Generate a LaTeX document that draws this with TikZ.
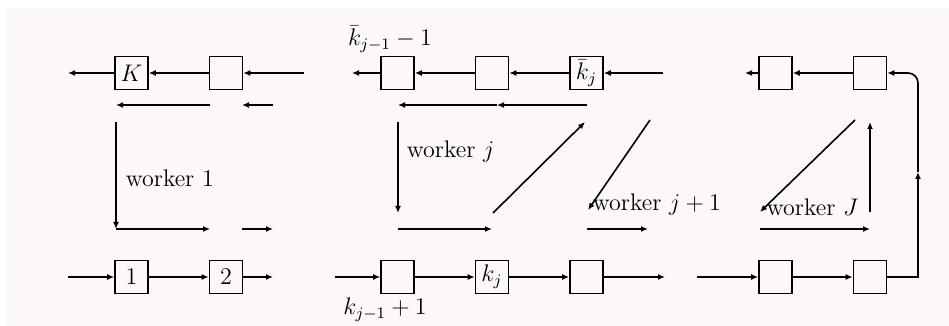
\documentclass[tikz,border=0pt]{standalone}
\usepackage{amsmath,amssymb}
\usetikzlibrary{arrows.meta}
\definecolor{paper}{RGB}{251,247,251}

\begin{document}
\begin{tikzpicture}[x=0.5pt,y=-0.5pt,line width=0.8pt,
		cell/.style={draw,line width=0.8pt,minimum width=16.5pt,minimum height=16.5pt,inner sep=0pt,font=\fontsize{12}{14}\selectfont},
		flow/.style={-{Latex[length=3.5pt,width=3pt]}},
		lbl/.style={font=\fontsize{12}{14}\selectfont,inner sep=0pt}]
					\pgfmathsetmacro{\TopY}{73}
					\pgfmathsetmacro{\BotY}{277}
					\pgfmathsetmacro{\BackY}{105}
					\pgfmathsetmacro{\FwdY}{229}
					\useasboundingbox (0,0) rectangle (949,326);
					\fill[paper] (7,8) rectangle (949,326);
					% TOP ROW
					\node[cell] (K) at (131.5,\TopY) {$K$};
					\node[cell] (t1) at (226,\TopY) {};
					\node[cell] (tL) at (397.5,\TopY) {};
					\node[cell] (tM) at (492,\TopY) {};
					\node[cell] (tkb) at (586.5,\TopY) {$\bar{k}_j$};
					\node[cell] (tR1) at (775.5,\TopY) {};
					\node[cell] (tR2) at (870,\TopY) {};
					\coordinate (tout1) at (68,\TopY);
					\coordinate (tin1) at (304,\TopY);
					\coordinate (tout2) at (352,\TopY);
					\coordinate (tin2) at (663,\TopY);
					\coordinate (tout3) at (745,\TopY);
					\draw[flow] (K) -- (tout1);
					\draw[flow] (t1) -- (K);
					\draw[flow] (tin1) -- (t1);
					\draw[flow] (tL) -- (tout2);
					\draw[flow] (tM) -- (tL);
					\draw[flow] (tkb) -- (tM);
					\draw[flow] (tin2) -- (tkb);
					\draw[flow] (tR1) -- (tout3);
					\draw[flow] (tR2) -- (tR1);
					\node[lbl] (upper) at (390,39) {$\bar{k}_{j-1}-1$};
					% BOTTOM ROW
					\node[cell] (b1) at (131.5,\BotY) {1};
					\node[cell] (b2) at (226,\BotY) {2};
					\node[cell] (bL) at (397.5,\BotY) {};
					\node[cell] (bk) at (492,\BotY) {$k_j$};
					\node[cell] (bM) at (586.5,\BotY) {};
					\node[cell] (bR1) at (775.5,\BotY) {};
					\node[cell] (bR2) at (870,\BotY) {};
					\coordinate (bin1) at (68,\BotY);
					\coordinate (bout1) at (273,\BotY);
					\coordinate (bin2) at (335,\BotY);
					\coordinate (bout2) at (665,\BotY);
					\coordinate (bin3) at (697,\BotY);
					\draw[flow] (bin1) -- (b1);
					\draw[flow] (b1) -- (b2);
					\draw[flow] (b2) -- (bout1);
					\draw[flow] (bin2) -- (bL);
					\draw[flow] (bL) -- (bk);
					\draw[flow] (bk) -- (bM);
					\draw[flow] (bM) -- (bout2);
					\draw[flow] (bin3) -- (bR1);
					\draw[flow] (bR1) -- (bR2);
					\node[lbl] (lower) at (385,310) {$k_{j-1}+1$};
					% RETURN LOOP
					\coordinate (loopB) at (918,\BotY);
					\coordinate (loopM) at (918,172);
					\coordinate (loopT) at (918,\TopY);
					\draw[flow] (bR2.east) -- (loopB) [rounded corners=5pt] -- (loopM);
					\draw[flow,rounded corners=5pt] (loopM) -- (loopT) -- (tR2.east);
					% WORKER 1
					\coordinate (a1) at (210,\BackY);
					\coordinate (a2) at (116,\BackY);
					\coordinate (a3) at (273,\BackY);
					\coordinate (a4) at (242,\BackY);
					\coordinate (a5) at (116,122);
					\coordinate (a6) at (116,\FwdY);
					\coordinate (a7) at (210,\FwdY);
					\coordinate (a8) at (242,\FwdY);
					\coordinate (a9) at (273,\FwdY);
					\draw[flow] (a1) -- (a2);
					\draw[flow] (a3) -- (a4);
					\draw[flow] (a5) -- (a6);
					\draw[flow] (a6) -- (a7);
					\draw[flow] (a8) -- (a9);
					\node[lbl,anchor=west] (w1) at (125,178) {worker 1};
					% WORKER j
					\coordinate (c1) at (587,\BackY);
					\coordinate (c2) at (497,\BackY);
					\coordinate (c3) at (398,\BackY);
					\coordinate (c4) at (398,122);
					\coordinate (c5) at (398,213);
					\coordinate (c6) at (398,\FwdY);
					\coordinate (c7) at (492,\FwdY);
					\coordinate (c8) at (493,213);
					\coordinate (c9) at (585,122);
					\draw[flow] (c1) -- (c2);
					\draw[flow] (c2) -- (c3);
					\draw[flow] (c4) -- (c5);
					\draw[flow] (c6) -- (c7);
					\draw[flow] (c8) -- (c9);
					\node[lbl,anchor=west] (wj) at (406,152) {worker $j$};
					% WORKER j+1
					\coordinate (d1) at (650,120);
					\coordinate (d2) at (588,210);
					\coordinate (d3) at (587,\FwdY);
					\coordinate (d4) at (648,\FwdY);
					\draw[flow] (d1) -- (d2);
					\draw[flow] (d3) -- (d4);
					\node[lbl,anchor=west] (wj1) at (592,205) {worker $j+1$};
					% WORKER J
					\coordinate (e1) at (855,120);
					\coordinate (e2) at (760,212);
					\coordinate (e3) at (760,\FwdY);
					\coordinate (e4) at (870,\FwdY);
					\coordinate (e5) at (870,212);
					\coordinate (e6) at (870,122);
					\draw[flow] (e1) -- (e2);
					\draw[flow] (e3) -- (e4);
					\draw[flow] (e5) -- (e6);
					\node[lbl,anchor=west] (wJ) at (766,207) {worker $J$};
				\end{tikzpicture}
\end{document}
